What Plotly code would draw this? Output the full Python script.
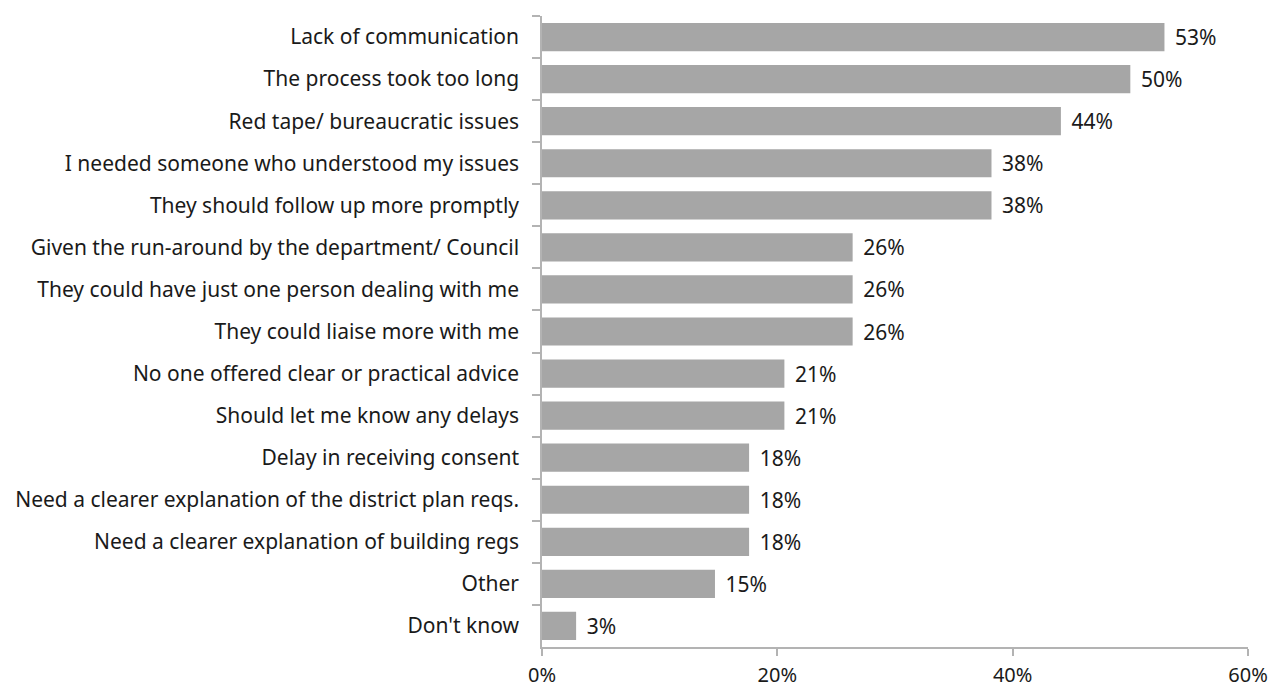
import plotly.graph_objects as go

# Survey responses: reasons for dissatisfaction (share of respondents)
reasons = [
    "Lack of communication",
    "The process took too long",
    "Red tape/ bureaucratic issues",
    "I needed someone who understood my issues",
    "They should follow up more promptly",
    "Given the run-around by the department/ Council",
    "They could have just one person dealing with me",
    "They could liaise more with me",
    "No one offered clear or practical advice",
    "Should let me know any delays",
    "Delay in receiving consent",
    "Need a clearer explanation of the district plan reqs.",
    "Need a clearer explanation of building regs",
    "Other",
    "Don't know",
]
shares = [0.529, 0.500, 0.441, 0.382, 0.382, 0.264, 0.264, 0.264,
          0.206, 0.206, 0.176, 0.176, 0.176, 0.147, 0.029]

x_ticks = [0, 0.2, 0.4, 0.6]

FONT = "Noto Sans"
FONT_SIZE = 21
TEXT_COLOR = "#1a1a1a"
AXIS_GREY = "#b3b3b3"

fig = go.Figure(
    go.Bar(
        x=shares,
        y=reasons,
        orientation="h",
        marker=dict(color="#a6a6a6", line=dict(width=0)),
        texttemplate=" \u200a%{x:.0%}",
        textposition="outside",
        cliponaxis=False,
        textfont=dict(family=FONT, size=FONT_SIZE, color=TEXT_COLOR),
        hoverinfo="skip",
    )
)

fig.update_layout(
    width=1281,
    height=688,
    margin=dict(l=542, r=33, t=16, b=41),
    paper_bgcolor="white",
    plot_bgcolor="white",
    bargap=0.33,
    showlegend=False,
    font=dict(family=FONT, size=FONT_SIZE, color=TEXT_COLOR),
)

fig.update_xaxes(
    range=[0, 0.6],
    tickvals=x_ticks,
    tickformat=".0%",
    showgrid=False,
    zeroline=False,
    showline=True,
    linecolor=AXIS_GREY,
    linewidth=1.5,
    ticks="outside",
    ticklen=7,
    tickwidth=1.5,
    tickcolor=AXIS_GREY,
    ticklabelstandoff=2,
    automargin=False,
    tickfont=dict(family=FONT, size=FONT_SIZE - 1, color=TEXT_COLOR),
)

fig.update_yaxes(
    autorange="reversed",
    showgrid=False,
    showline=True,
    linecolor=AXIS_GREY,
    linewidth=1.5,
    ticks="outside",
    tickson="boundaries",
    ticklen=8,
    tickwidth=1.5,
    tickcolor=AXIS_GREY,
    ticklabelstandoff=17,
    automargin=False,
    tickfont=dict(family=FONT, size=FONT_SIZE, color=TEXT_COLOR),
)

fig.write_html("out.html")
